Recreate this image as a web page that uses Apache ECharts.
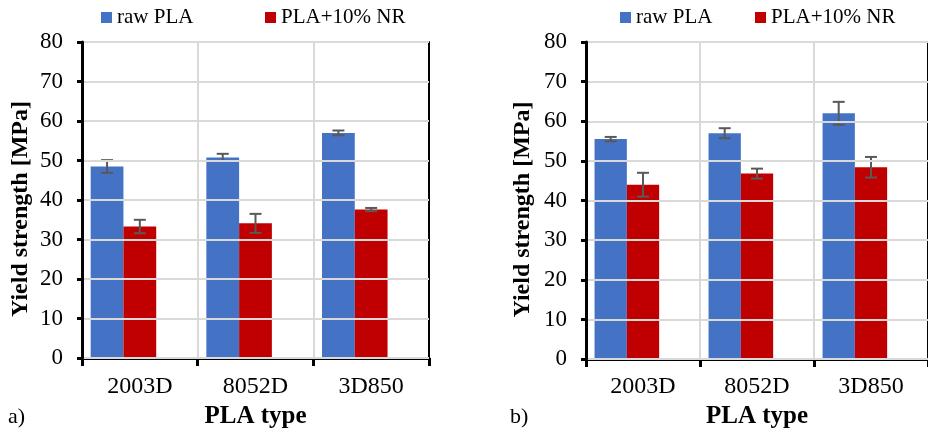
<!DOCTYPE html>
<html>
<head>
<meta charset="utf-8">
<script src="https://cdn.jsdelivr.net/npm/echarts@6/dist/echarts.min.js"></script>
<style>
html,body{margin:0;padding:0;background:#fff;}
#main{width:928px;height:434px;}
</style>
</head>
<body>
<div id="main"></div>
<script>
// ---- data ----
const categories = ['2003D', '8052D', '3D850'];
const seriesNames = ['raw PLA', 'PLA+10% NR'];
const yTicks = [0, 10, 20, 30, 40, 50, 60, 70, 80];
// panel a)
const rawA = [48.5, 50.8, 57.0];
const rawAErr = [1.6, 0.9, 0.6];
const nrA = [33.3, 34.1, 37.6];
const nrAErr = [1.7, 2.4, 0.4];
// panel b)
const rawB = [55.5, 57.0, 62.0];
const rawBErr = [0.55, 1.25, 2.9];
const nrB = [44.0, 46.8, 48.4];
const nrBErr = [3.0, 1.25, 2.6];

const panelLabels = ['a)', 'b)'];
const yName = 'Yield strength [MPa]';
const xName = 'PLA type';

// ---- styles ----
const FONT = '"Liberation Serif", "Times New Roman", serif';
const BLUE = '#4472C4';
const RED = '#C00000';
const CAT_GAP = 0.15;
const NSLOTS = 3;

function errRender(k) {
  return function (params, api) {
    const cat = api.value(0), val = api.value(1), err = api.value(2);
    const catW = api.size([1, 0])[0];
    const barW = catW * (1 - CAT_GAP) / NSLOTS;
    const cx = api.coord([cat, val])[0] + (k - (NSLOTS - 1) / 2) * barW;
    const yHi = api.coord([cat, val + err])[1];
    const yLo = api.coord([cat, val - err])[1];
    const cap = 6;
    const st = { stroke: '#595959', lineWidth: 2 };
    return {
      type: 'group',
      children: [
        { type: 'line', shape: { x1: cx, y1: yHi, x2: cx, y2: yLo }, style: st },
        { type: 'line', shape: { x1: cx - cap, y1: yHi, x2: cx + cap, y2: yHi }, style: st },
        { type: 'line', shape: { x1: cx - cap, y1: yLo, x2: cx + cap, y2: yLo }, style: st }
      ]
    };
  };
}

function errData(vals, errs) {
  return vals.map((v, i) => [i, v, errs[i]]);
}

function xAxisCfg(idx) {
  return {
    type: 'category', gridIndex: idx, data: categories,
    boundaryGap: true,
    axisLine: { show: true, lineStyle: { color: '#000', width: 3 } },
    axisTick: { show: true, length: 8, lineStyle: { color: '#000', width: 3 } },
    axisLabel: { color: '#000', fontFamily: FONT, fontSize: 24, margin: idx === 0 ? 17 : 16 },
    splitLine: { show: true, interval: 0, lineStyle: { color: '#d9d9d9', width: 2 } },
    name: xName, nameLocation: 'middle', nameGap: 43,
    nameTextStyle: { color: '#000', fontFamily: FONT, fontSize: 25, fontWeight: 'bold' },
    z: 5
  };
}

// frame axes (top / right border lines of the plot box)
function xFrameCfg(idx) {
  return {
    type: 'category', gridIndex: idx, data: categories, position: 'top',
    axisLine: { show: true, lineStyle: { color: '#000', width: 2 } },
    axisTick: { show: false }, axisLabel: { show: false }, splitLine: { show: false },
    z: 6
  };
}
function yFrameCfg(idx) {
  return {
    type: 'value', gridIndex: idx, position: 'right',
    min: yTicks[0], max: yTicks[yTicks.length - 1], interval: yTicks[1] - yTicks[0],
    axisLine: { show: true, lineStyle: { color: '#000', width: 2 } },
    axisTick: { show: false }, axisLabel: { show: false }, splitLine: { show: false },
    z: 6
  };
}

function yAxisCfg(idx) {
  return {
    type: 'value', gridIndex: idx, position: 'left',
    min: yTicks[0], max: yTicks[yTicks.length - 1], interval: yTicks[1] - yTicks[0],
    axisLine: { show: true, lineStyle: { color: '#000', width: 3 } },
    axisTick: { show: true, length: 5, lineStyle: { color: '#000', width: 3 } },
    axisLabel: { color: '#000', fontFamily: FONT, fontSize: 23, margin: 19 },
    splitLine: { show: true, lineStyle: { color: '#d9d9d9', width: 2 } },
    name: yName, nameLocation: 'middle', nameRotate: 90, nameGap: idx === 0 ? 49 : 51,
    nameTextStyle: { color: '#000', fontFamily: FONT, fontSize: 24, fontWeight: 'bold', padding: [0, 18, 0, 0] },
    z: 7
  };
}

function barSeries(name, data, idx, color) {
  return {
    type: 'bar', name: name, data: data, xAxisIndex: idx, yAxisIndex: idx,
    barGap: 0, barCategoryGap: (CAT_GAP * 100) + '%',
    itemStyle: { color: color }, z: 2
  };
}

function legendCfg(name, left) {
  return {
    data: [name], left: left, top: 7, padding: 0,
    icon: 'rect', itemWidth: 11, itemHeight: 11, selectedMode: false,
    textStyle: { color: '#000', fontFamily: FONT, fontSize: 21 }
  };
}

const chart = echarts.init(document.getElementById('main'), null, { renderer: 'canvas' });
const option = {
  animation: false,
  backgroundColor: '#fff',
  grid: [
    { left: 82, top: 42, width: 347, height: 320, containLabel: false },
    { left: 586, top: 42, width: 346, height: 318, containLabel: false }
  ],
  legend: [
    legendCfg(seriesNames[0], 101),
    legendCfg(seriesNames[1], 265),
    legendCfg(seriesNames[0], 620),
    legendCfg(seriesNames[1], 755)
  ],
  xAxis: [xAxisCfg(0), xAxisCfg(1), xFrameCfg(0), xFrameCfg(1)],
  yAxis: [yAxisCfg(0), yAxisCfg(1), yFrameCfg(0), yFrameCfg(1)],
  series: [
    barSeries(seriesNames[0], rawA, 0, BLUE),
    barSeries(seriesNames[1], nrA, 0, RED),
    barSeries('', categories.map(() => null), 0, '#fff'),
    barSeries(seriesNames[0], rawB, 1, BLUE),
    barSeries(seriesNames[1], nrB, 1, RED),
    barSeries('', categories.map(() => null), 1, '#fff'),
    { type: 'custom', xAxisIndex: 0, yAxisIndex: 0, renderItem: errRender(0), data: errData(rawA, rawAErr), encode: { x: 0, y: 1 }, z: 3 },
    { type: 'custom', xAxisIndex: 0, yAxisIndex: 0, renderItem: errRender(1), data: errData(nrA, nrAErr), encode: { x: 0, y: 1 }, z: 3 },
    { type: 'custom', xAxisIndex: 1, yAxisIndex: 1, renderItem: errRender(0), data: errData(rawB, rawBErr), encode: { x: 0, y: 1 }, z: 3 },
    { type: 'custom', xAxisIndex: 1, yAxisIndex: 1, renderItem: errRender(1), data: errData(nrB, nrBErr), encode: { x: 0, y: 1 }, z: 3 }
  ],
  graphic: [
    { type: 'text', left: 8, top: 406, style: { text: panelLabels[0], fill: '#000', font: '22px ' + FONT } },
    { type: 'text', left: 510, top: 406, style: { text: panelLabels[1], fill: '#000', font: '22px ' + FONT } }
  ]
};
chart.setOption(option);
</script>
</body>
</html>
